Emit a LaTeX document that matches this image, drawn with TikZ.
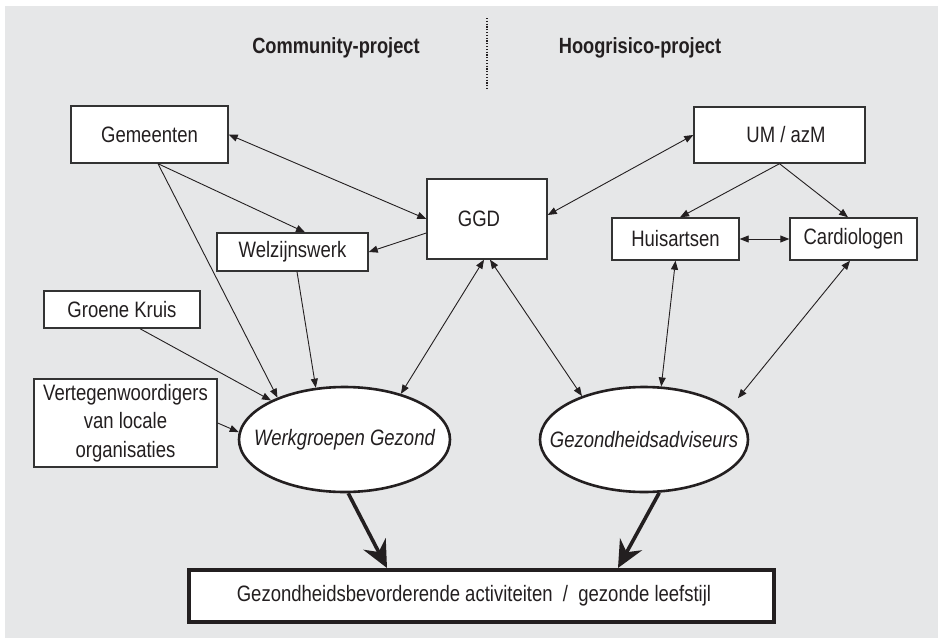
\documentclass[tikz,border=0pt]{standalone}
\usepackage{fontspec}
\setmainfont[FakeStretch=0.83]{Liberation Sans}
\usetikzlibrary{arrows.meta,shapes.geometric}
\definecolor{bg}{HTML}{E6E7E8}
\definecolor{lin}{HTML}{231F20}
\definecolor{boxline}{HTML}{333333}
\begin{document}
\begin{tikzpicture}[x=1pt,y=-1pt,
  font=\fontsize{22.3}{28.5}\selectfont,
  box/.style={draw=boxline, fill=white, line width=1.4pt, inner sep=0pt, align=center, text=lin},
  oval/.style={ellipse, draw=lin, fill=white, line width=2.6pt, inner sep=0pt, text=lin},
  bottombox/.style={draw=lin, fill=white, line width=4pt, inner sep=0pt, text=lin},
  title/.style={font=\fontsize{22}{28}\selectfont\bfseries, text=lin},
  thin/.style={draw=lin, line width=0.9pt},
  arr/.style={thin, -{Triangle[length=9pt,width=7pt]}},
  darr/.style={thin, {Triangle[length=9pt,width=7pt]}-{Triangle[length=9pt,width=7pt]}},
  bigarr/.style={draw=lin, line width=3.6pt, -{Stealth[length=27pt,width=25pt,inset=9pt]}}
]
\useasboundingbox (0,0) rectangle (938,640);
\fill[white] (0,0) rectangle (938,640);
\fill[bg] (5,6) rectangle (938,638);

% titles and divider
\node[title] (t1) at (336,48) {Community-project};
\node[title] (t2) at (640,48) {Hoogrisico-project};
\coordinate (d1) at (487,18);
\coordinate (d2) at (487,89);
\draw[lin, line width=1.2pt, dash pattern=on 1.2pt off 1.6pt] (d1) -- (d2);

% boxes
\node[box, minimum width=157pt, minimum height=57pt] (Gem) at (149.5,134.5) {Gemeenten};
\node[box, minimum width=120pt, minimum height=80pt] (GGD) at (487,219) {\hspace*{-16pt}GGD};
\node[box, minimum width=151pt, minimum height=38pt] (Wel) at (292.5,252) {Welzijnswerk};
\node[box, minimum width=156pt, minimum height=37pt] (GK) at (122,309.5) {Groene Kruis};
\node[box, minimum width=183pt, minimum height=88pt] (VL) at (125.5,423) {Vertegenwoordigers\\van locale\\organisaties};
\node[box, minimum width=171pt, minimum height=56pt] (UM) at (779.5,135) {\hspace*{13pt}UM / azM};
\node[box, minimum width=127pt, minimum height=42pt] (Hui) at (675.5,239) {Huisartsen};
\node[box, minimum width=127pt, minimum height=42pt] (Car) at (853.5,239) {Cardiologen};

% ellipses
\node[oval, minimum width=211pt, minimum height=105pt] (WG) at (344.5,439.5) {\makebox[0pt]{\itshape Werkgroepen Gezond}};
\node[oval, minimum width=208pt, minimum height=105pt] (GA) at (644,439.5) {\makebox[0pt]{\itshape Gezondheidsadviseurs}};

% bottom box
\node[bottombox, minimum width=585pt, minimum height=52pt] (Bot) at (481.5,596) {\hspace*{-15pt}Gezondheidsbevorderende activiteiten \ / \ gezonde leefstijl};

% connectors
\draw[darr] (Gem.east) -- (GGD.west);
\draw[arr] ([xshift=8.5pt]Gem.south) -- ([xshift=12.5pt]Wel.north);
\draw[arr] ([xshift=8.5pt]Gem.south) -- (WG.148);
\draw[arr] ([yshift=-14pt]GGD.west) -- (Wel.east);
\draw[arr] ([xshift=4.5pt]Wel.south) -- (WG.119);
\draw[arr] ([xshift=18pt]GK.south) -- (WG.152);
\draw[arr] (VL.east) -- (WG.176);
\draw[darr] ([xshift=-3pt]GGD.south) -- (WG.39);
\draw[darr] ([xshift=3pt]GGD.south) -- (GA.145);
\draw[darr] (UM.west) -- ([yshift=4pt]GGD.east);
\draw[arr] (UM.south) -- ([xshift=4.5pt]Hui.north);
\draw[arr] (UM.south) -- ([xshift=-5.5pt]Car.north);
\draw[darr] (Hui.east) -- (Car.west);
\draw[darr] (Hui.south) -- (GA.72);
\draw[darr, shorten >=13pt] ([xshift=-3.5pt]Car.south) -- (GA.20);
\draw[bigarr] (WG.274) -- ([xshift=-94.5pt]Bot.north);
\draw[bigarr] (GA.286) -- ([xshift=136.5pt]Bot.north);
\end{tikzpicture}
\end{document}
